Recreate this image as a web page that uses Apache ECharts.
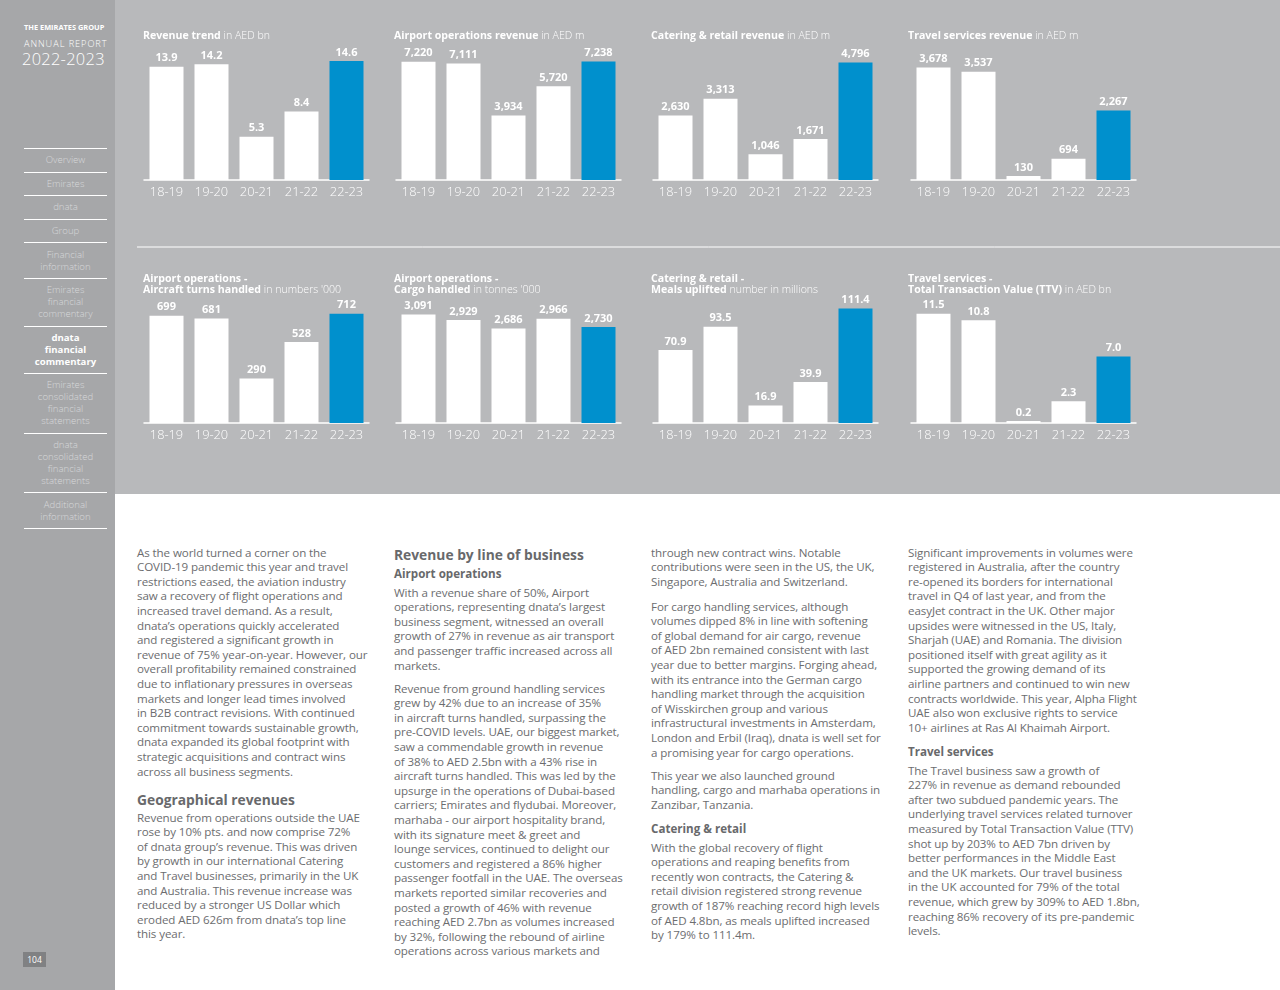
<!DOCTYPE html>
<html>
<head>
<meta charset="utf-8">
<script src="https://cdn.jsdelivr.net/npm/echarts/dist/echarts.min.js"></script>
<style>
  html, body { margin:0; padding:0; width:1280px; height:990px; background:#fff; overflow:hidden; }
  body { position:relative; font-family:"Open Sans", "Noto Sans", sans-serif; }
  #chart { position:absolute; left:0; top:0; width:1280px; height:494px; }
  #side { position:absolute; left:0; top:0; width:115px; height:990px; background:#a6a7a9; z-index:2; color:#fff; }
  .brand1 { position:absolute; left:24px; top:22px; font-size:7.4px; font-weight:700; white-space:nowrap; }
  .brand2 { position:absolute; left:24px; top:37px; font-size:9.2px; font-weight:300; letter-spacing:0.95px; white-space:nowrap; }
  .brand3 { position:absolute; left:22px; top:47px; font-size:16.4px; font-weight:300; letter-spacing:0.3px; white-space:nowrap; }
  #menu { position:absolute; left:24px; top:148px; width:83px; }
  .mi { border-top:1px solid #fff; text-align:center; font-size:9.6px; line-height:12px; padding:5.3px 0; color:#d6d7d9; font-weight:300; }
  .mi.act { color:#fff; font-weight:700; }
  .mi.last { border-top:1px solid #fff; padding:0; height:0; }
  .pg { position:absolute; left:23px; top:952px; width:23px; height:15px; background:#808183; color:#fff; font-size:8.5px; line-height:15px; text-align:center; }
  .t { position:absolute; white-space:nowrap; color:#6c6d6f; font-size:11.6px; line-height:14.6px; letter-spacing:-0.1px; }
  .h1 { position:absolute; white-space:nowrap; color:#68696b; font-size:13.8px; font-weight:700; line-height:16px; }
  .h2 { position:absolute; white-space:nowrap; color:#68696b; font-size:11.6px; font-weight:700; line-height:14.6px; }
</style>
</head>
<body>
<div id="chart"></div>
<div id="side">
  <div class="brand1">THE EMIRATES GROUP</div>
  <div class="brand2">ANNUAL REPORT</div>
  <div class="brand3">2022-2023</div>
  <div id="menu">
    <div class="mi">Overview</div>
    <div class="mi">Emirates</div>
    <div class="mi">dnata</div>
    <div class="mi">Group</div>
    <div class="mi">Financial<br>information</div>
    <div class="mi">Emirates<br>financial<br>commentary</div>
    <div class="mi act">dnata<br>financial<br>commentary</div>
    <div class="mi">Emirates<br>consolidated<br>financial<br>statements</div>
    <div class="mi">dnata<br>consolidated<br>financial<br>statements</div>
    <div class="mi">Additional<br>information</div>
    <div class="mi last"></div>
  </div>
  <div class="pg">104</div>
</div>

<!-- Column 1 -->
<div class="t" style="left:137px;top:545.7px">As the world turned a corner on the<br>COVID-19 pandemic this year and travel<br>restrictions eased, the aviation industry<br>saw a recovery of flight operations and<br>increased travel demand. As a result,<br>dnata’s operations quickly accelerated<br>and registered a significant growth in<br>revenue of 75% year-on-year. However, our<br>overall profitability remained constrained<br>due to inflationary pressures in overseas<br>markets and longer lead times involved<br>in B2B contract revisions. With continued<br>commitment towards sustainable growth,<br>dnata expanded its global footprint with<br>strategic acquisitions and contract wins<br>across all business segments.</div>
<div class="h1" style="left:137px;top:792px">Geographical revenues</div>
<div class="t" style="left:137px;top:810.7px">Revenue from operations outside the UAE<br>rose by 10% pts. and now comprise 72%<br>of dnata group’s revenue. This was driven<br>by growth in our international Catering<br>and Travel businesses, primarily in the UK<br>and Australia. This revenue increase was<br>reduced by a stronger US Dollar which<br>eroded AED 626m from dnata’s top line<br>this year.</div>

<!-- Column 2 -->
<div class="h1" style="left:394px;top:547px">Revenue by line of business</div>
<div class="h2" style="left:394px;top:566.7px">Airport operations</div>
<div class="t" style="left:394px;top:585.7px">With a revenue share of 50%, Airport<br>operations, representing dnata’s largest<br>business segment, witnessed an overall<br>growth of 27% in revenue as air transport<br>and passenger traffic increased across all<br>markets.</div>
<div class="t" style="left:394px;top:681.7px">Revenue from ground handling services<br>grew by 42% due to an increase of 35%<br>in aircraft turns handled, surpassing the<br>pre-COVID levels. UAE, our biggest market,<br>saw a commendable growth in revenue<br>of 38% to AED 2.5bn with a 43% rise in<br>aircraft turns handled. This was led by the<br>upsurge in the operations of Dubai-based<br>carriers; Emirates and flydubai. Moreover,<br>marhaba - our airport hospitality brand,<br>with its signature meet &amp; greet and<br>lounge services, continued to delight our<br>customers and registered a 86% higher<br>passenger footfall in the UAE. The overseas<br>markets reported similar recoveries and<br>posted a growth of 46% with revenue<br>reaching AED 2.7bn as volumes increased<br>by 32%, following the rebound of airline<br>operations across various markets and</div>

<!-- Column 3 -->
<div class="t" style="left:651px;top:545.7px">through new contract wins. Notable<br>contributions were seen in the US, the UK,<br>Singapore, Australia and Switzerland.</div>
<div class="t" style="left:651px;top:599.7px">For cargo handling services, although<br>volumes dipped 8% in line with softening<br>of global demand for air cargo, revenue<br>of AED 2bn remained consistent with last<br>year due to better margins. Forging ahead,<br>with its entrance into the German cargo<br>handling market through the acquisition<br>of Wisskirchen group and various<br>infrastructural investments in Amsterdam,<br>London and Erbil (Iraq), dnata is well set for<br>a promising year for cargo operations.</div>
<div class="t" style="left:651px;top:768.7px">This year we also launched ground<br>handling, cargo and marhaba operations in<br>Zanzibar, Tanzania.</div>
<div class="h2" style="left:651px;top:821.7px">Catering &amp; retail</div>
<div class="t" style="left:651px;top:840.7px">With the global recovery of flight<br>operations and reaping benefits from<br>recently won contracts, the Catering &amp;<br>retail division registered strong revenue<br>growth of 187% reaching record high levels<br>of AED 4.8bn, as meals uplifted increased<br>by 179% to 111.4m.</div>

<!-- Column 4 -->
<div class="t" style="left:908px;top:545.7px">Significant improvements in volumes were<br>registered in Australia, after the country<br>re-opened its borders for international<br>travel in Q4 of last year, and from the<br>easyJet contract in the UK. Other major<br>upsides were witnessed in the US, Italy,<br>Sharjah (UAE) and Romania. The division<br>positioned itself with great agility as it<br>supported the growing demand of its<br>airline partners and continued to win new<br>contracts worldwide. This year, Alpha Flight<br>UAE also won exclusive rights to service<br>10+ airlines at Ras Al Khaimah Airport.</div>
<div class="h2" style="left:908px;top:744.7px">Travel services</div>
<div class="t" style="left:908px;top:763.7px">The Travel business saw a growth of<br>227% in revenue as demand rebounded<br>after two subdued pandemic years. The<br>underlying travel services related turnover<br>measured by Total Transaction Value (TTV)<br>shot up by 203% to AED 7bn driven by<br>better performances in the Middle East<br>and the UK markets. Our travel business<br>in the UK accounted for 79% of the total<br>revenue, which grew by 309% to AED 1.8bn,<br>reaching 86% recovery of its pre-pandemic<br>levels.</div>

<script>
// ---- Data ----
const years = ['18-19', '19-20', '20-21', '21-22', '22-23'];
const revenueTrend = [13.9, 14.2, 5.3, 8.4, 14.6];
const airportRevenue = [7220, 7111, 3934, 5720, 7238];
const cateringRevenue = [2630, 3313, 1046, 1671, 4796];
const travelRevenue = [3678, 3537, 130, 694, 2267];
const aircraftTurns = [699, 681, 290, 528, 712];
const cargoHandled = [3091, 2929, 2686, 2966, 2730];
const mealsUplifted = [70.9, 93.5, 16.9, 39.9, 111.4];
const ttv = [11.5, 10.8, 0.2, 2.3, 7.0];

// ---- Chart setup ----
const FONT = '"Open Sans", "Noto Sans", sans-serif';
const WHITE = '#ffffff';
const BLUE = '#0090cd';

const charts = [
  { bold: 'Revenue trend', pre: '', unit: ' in AED bn', data: revenueTrend, dec: 1, max: 14.6, col: 0, row: 0 },
  { bold: 'Airport operations revenue', pre: '', unit: ' in AED m', data: airportRevenue, dec: 0, max: 7262, col: 1, row: 0 },
  { bold: 'Catering & retail revenue', pre: '', unit: ' in AED m', data: cateringRevenue, dec: 0, max: 4853, col: 2, row: 0 },
  { bold: 'Travel services revenue', pre: '', unit: ' in AED m', data: travelRevenue, dec: 0, max: 3887, col: 3, row: 0 },
  { bold: 'Aircraft turns handled', pre: 'Airport operations -', unit: " in numbers '000", data: aircraftTurns, dec: 0, max: 749, col: 0, row: 1 },
  { bold: 'Cargo handled', pre: 'Airport operations -', unit: " in tonnes '000", data: cargoHandled, dec: 0, max: 3273, col: 1, row: 1 },
  { bold: 'Meals uplifted', pre: 'Catering & retail -', unit: ' number in millions', data: mealsUplifted, dec: 1, max: 111.8, col: 2, row: 1 },
  { bold: 'Total Transaction Value (TTV)', pre: 'Travel services -', unit: ' in AED bn', data: ttv, dec: 1, max: 12.1, col: 3, row: 1 }
];

const gridLeft = [144, 396, 653, 911];
const titleLeft = [143, 394, 651, 908];
const rowGrid = [ { top: 61, height: 119 }, { top: 308, height: 115 } ];
const rowTitleTop = [30.5, 273.5];

function fmt(v, dec) {
  return dec > 0 ? v.toFixed(dec) : v.toLocaleString('en-US');
}

const option = {
  backgroundColor: '#b8b9bb',
  animation: false,
  title: [], grid: [], xAxis: [], yAxis: [], series: [],
  graphic: [
    { type: 'line', shape: { x1: 137, y1: 247, x2: 1280, y2: 247 }, style: { stroke: '#ffffff', lineWidth: 1 } }
  ]
};

charts.forEach((c, i) => {
  const text = (c.pre ? '{b|' + c.pre + '}\n' : '') + '{b|' + c.bold + '}{r|' + c.unit + '}';
  option.title.push({
    left: titleLeft[c.col], top: rowTitleTop[c.row], padding: 0,
    text: text,
    textStyle: {
      lineHeight: 11,
      rich: {
        b: { fontFamily: FONT, fontSize: 10.6, fontWeight: 'bold', color: WHITE, lineHeight: 11 },
        r: { fontFamily: FONT, fontSize: 10.6, fontWeight: 300, color: WHITE, lineHeight: 11 }
      }
    }
  });
  option.grid.push({ left: gridLeft[c.col], width: 225, top: rowGrid[c.row].top, height: rowGrid[c.row].height, containLabel: false });
  option.xAxis.push({
    type: 'category', gridIndex: i, data: years,
    axisLine: { show: true, lineStyle: { color: WHITE, width: 1.5 } },
    axisTick: { show: false },
    axisLabel: { color: WHITE, fontFamily: FONT, fontSize: 12.8, fontWeight: 300, margin: 6, interval: 0 }
  });
  option.yAxis.push({
    type: 'value', gridIndex: i, min: 0, max: c.max, show: false,
    splitLine: { show: false }
  });
  option.series.push({
    type: 'bar', xAxisIndex: i, yAxisIndex: i, barWidth: 34,
    data: c.data.map((v, k) => ({ value: v, itemStyle: { color: k === c.data.length - 1 ? BLUE : WHITE } })),
    label: {
      show: true, position: 'top', distance: 3,
      color: WHITE, fontFamily: FONT, fontSize: 11, fontWeight: 'bold',
      formatter: p => fmt(p.value, c.dec)
    }
  });
});

const chart = echarts.init(document.getElementById('chart'), null, { renderer: 'canvas' });
chart.setOption(option);
</script>
</body>
</html>
